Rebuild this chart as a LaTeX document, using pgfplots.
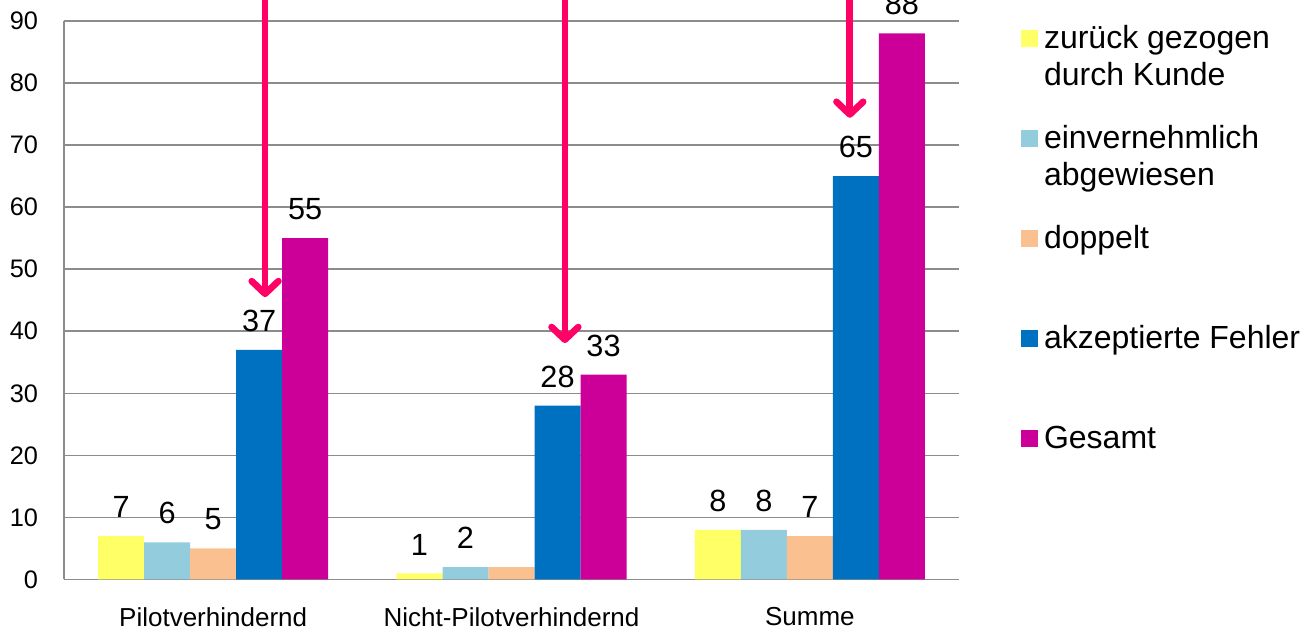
\documentclass[border=0pt]{standalone}
\usepackage{pgfplots}
\pgfplotsset{compat=1.18}
\usepackage{fontspec}
\setmainfont{Liberation Sans}
\usetikzlibrary{arrows.meta}

\definecolor{cYellow}{HTML}{FFFF66}
\definecolor{cLightBlue}{HTML}{93CDDD}
\definecolor{cPeach}{HTML}{FAC090}
\definecolor{cBlue}{HTML}{0070C0}
\definecolor{cMagenta}{HTML}{CC0099}
\definecolor{cArrow}{HTML}{FF0066}
\definecolor{cGrid}{HTML}{8C8C8C}

% two-line legend text, aligned on its first line
\newcommand{\twolines}[2]{\begin{tabular}[t]{@{}l@{}}#1\\#2\end{tabular}}

\begin{document}
\begin{tikzpicture}
\begin{axis}[
  at={(48pt,40.875pt)}, anchor=south west,
  scale only axis, width=671.25pt, height=418.9pt,
  xmin=-0.5, xmax=2.5, ymin=0, ymax=90,
  ybar=0pt, bar width=0.1542,
  xtick={0,1,2},
  xticklabels={Pilotverhindernd, Nicht-Pilotverhindernd, Summe},
  ytick={0,10,...,90},
  ymajorgrids, grid style={cGrid, line width=1.2pt},
  axis x line*=bottom, axis y line*=left,
  axis line style={cGrid, line width=1.2pt, -},
  major tick length=0pt,
  /pgf/number format/assume math mode=true,
  yticklabel style={font=\fontsize{19}{21}\selectfont, inner sep=0pt, xshift=-19.3pt},
  xticklabel style={font=\fontsize{19.5}{22}\selectfont, inner sep=0pt, yshift=-21pt},
  nodes near coords,
  every node near coord/.append style={font=\fontsize{23}{25}\selectfont, text=black, inner sep=0pt, yshift=13.5pt},
  clip=false,
  legend image code/.code={\fill[#1] (0pt,1.5pt) rectangle (12.75pt,14.25pt);},
  legend style={at={(axis description cs:1.0693,0.9977)}, anchor=north west,
    draw=none, fill=none, inner sep=0pt, outer sep=0pt,
    row sep=0pt, column sep=4.5pt,
    font=\fontsize{24}{27.75}\selectfont,
    cells={anchor=base west},
    nodes={inner sep=0pt, text height=20pt, text depth=55pt}},
]
\addplot[fill=cYellow, draw=none] coordinates {(0,7) (1,1) (2,8)};
\addlegendentry{\twolines{zurück gezogen}{durch Kunde}}
\addplot[fill=cLightBlue, draw=none] coordinates {(0,6) (1,2) (2,8)};
\addlegendentry{\twolines{einvernehmlich}{abgewiesen}}
% the middle "doppelt" bar carries no value label
\addplot[fill=cPeach, draw=none,
  visualization depends on={x \as \rawx},
  nodes near coords={\ifdim\rawx pt=1pt\else\pgfmathprintnumber{\pgfplotspointmeta}\fi}]
  coordinates {(0,5) (1,2) (2,7)};
\addlegendentry{doppelt}
\addplot[fill=cBlue, draw=none] coordinates {(0,37) (1,28) (2,65)};
\addlegendentry{akzeptierte Fehler}
\addplot[fill=cMagenta, draw=none] coordinates {(0,55) (1,33) (2,88)};
\addlegendentry{Gesamt}

% highlight arrows pointing at the accepted-error bars
\draw[cArrow, line width=5pt, -{Straight Barb[length=9.5pt,width=20pt,round]}]
  (axis cs:0.174,100) -- (axis cs:0.174,45.5);
\draw[cArrow, line width=5pt, -{Straight Barb[length=9.5pt,width=20pt,round]}]
  (axis cs:1.179,100) -- (axis cs:1.179,38.1);
\draw[cArrow, line width=5pt, -{Straight Barb[length=9.5pt,width=20pt,round]}]
  (axis cs:2.134,100) -- (axis cs:2.134,74.4);
\end{axis}
\pgfresetboundingbox
\useasboundingbox (0pt,0pt) rectangle (978.75pt,475.5pt);
\end{tikzpicture}
\end{document}
